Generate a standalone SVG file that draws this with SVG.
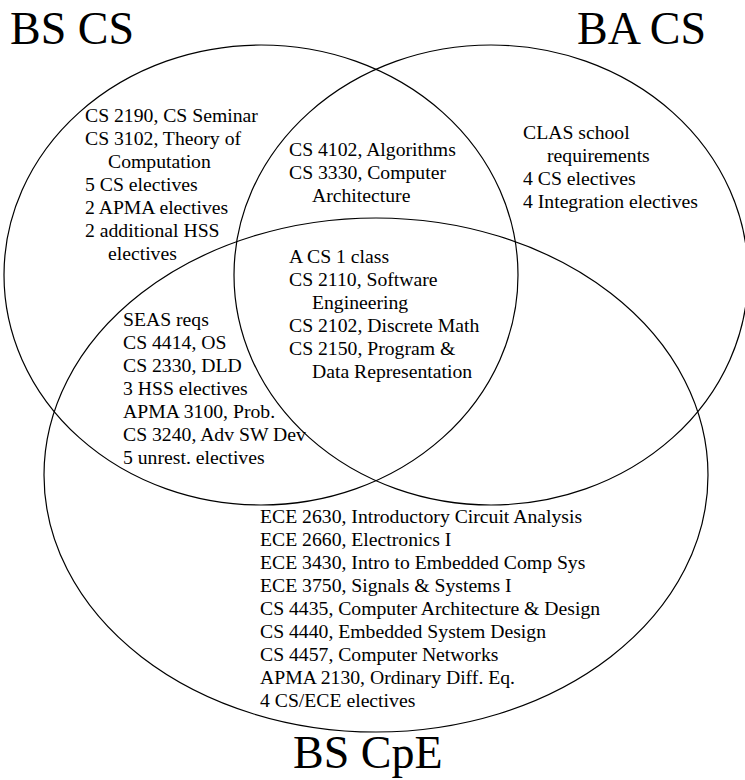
<svg xmlns="http://www.w3.org/2000/svg" width="745" height="780" viewBox="0 0 745 780">
  <style>
    .set { fill: none; stroke: #000; stroke-width: 1.2; }
    .title { font-family: "Liberation Serif", "DejaVu Serif", serif; font-size: 46px; fill: #000; }
    .t { font-family: "Liberation Serif", "DejaVu Serif", serif; font-size: 19.7px; fill: #000; }
  </style>
  <rect width="745" height="780" fill="#fff"/>
  <g id="set-bs-cs">
    <ellipse class="set" cx="261" cy="275" rx="257" ry="230"/>
    <text class="title" x="10" y="44">BS CS</text>
  </g>
  <g id="set-ba-cs">
    <ellipse class="set" cx="491" cy="275" rx="257" ry="230"/>
    <text class="title" x="577" y="44">BA CS</text>
  </g>
  <g id="set-bs-cpe">
    <ellipse class="set" cx="376" cy="475" rx="332" ry="257"/>
    <text class="title" x="293" y="768">BS CpE</text>
  </g>
  <g id="region-bscs-only">
    <text class="t" x="85" y="122">CS 2190, CS Seminar</text>
    <text class="t" x="85" y="145">CS 3102, Theory of</text>
    <text class="t" x="108" y="168">Computation</text>
    <text class="t" x="85" y="191">5 CS electives</text>
    <text class="t" x="85" y="214">2 APMA electives</text>
    <text class="t" x="85" y="237">2 additional HSS</text>
    <text class="t" x="108" y="260">electives</text>
  </g>
  <g id="region-bscs-bacs">
    <text class="t" x="289" y="156">CS 4102, Algorithms</text>
    <text class="t" x="289" y="179">CS 3330, Computer</text>
    <text class="t" x="312" y="202">Architecture</text>
  </g>
  <g id="region-bacs-only">
    <text class="t" x="523" y="139">CLAS school</text>
    <text class="t" x="547" y="162">requirements</text>
    <text class="t" x="523" y="185">4 CS electives</text>
    <text class="t" x="523" y="208">4 Integration electives</text>
  </g>
  <g id="region-all">
    <text class="t" x="289" y="263">A CS 1 class</text>
    <text class="t" x="289" y="286">CS 2110, Software</text>
    <text class="t" x="312" y="309">Engineering</text>
    <text class="t" x="289" y="332">CS 2102, Discrete Math</text>
    <text class="t" x="289" y="355">CS 2150, Program &amp;</text>
    <text class="t" x="312" y="378">Data Representation</text>
  </g>
  <g id="region-bscs-bscpe">
    <text class="t" x="123" y="326">SEAS reqs</text>
    <text class="t" x="123" y="349">CS 4414, OS</text>
    <text class="t" x="123" y="372">CS 2330, DLD</text>
    <text class="t" x="123" y="395">3 HSS electives</text>
    <text class="t" x="123" y="418">APMA 3100, Prob.</text>
    <text class="t" x="123" y="441">CS 3240, Adv SW Dev</text>
    <text class="t" x="123" y="464">5 unrest. electives</text>
  </g>
  <g id="region-bscpe-only">
    <text class="t" x="260" y="523">ECE 2630, Introductory Circuit Analysis</text>
    <text class="t" x="260" y="546">ECE 2660, Electronics I</text>
    <text class="t" x="260" y="569">ECE 3430, Intro to Embedded Comp Sys</text>
    <text class="t" x="260" y="592">ECE 3750, Signals &amp; Systems I</text>
    <text class="t" x="260" y="615">CS 4435, Computer Architecture &amp; Design</text>
    <text class="t" x="260" y="638">CS 4440, Embedded System Design</text>
    <text class="t" x="260" y="661">CS 4457, Computer Networks</text>
    <text class="t" x="260" y="684">APMA 2130, Ordinary Diff. Eq.</text>
    <text class="t" x="260" y="707">4 CS/ECE electives</text>
  </g>
</svg>
